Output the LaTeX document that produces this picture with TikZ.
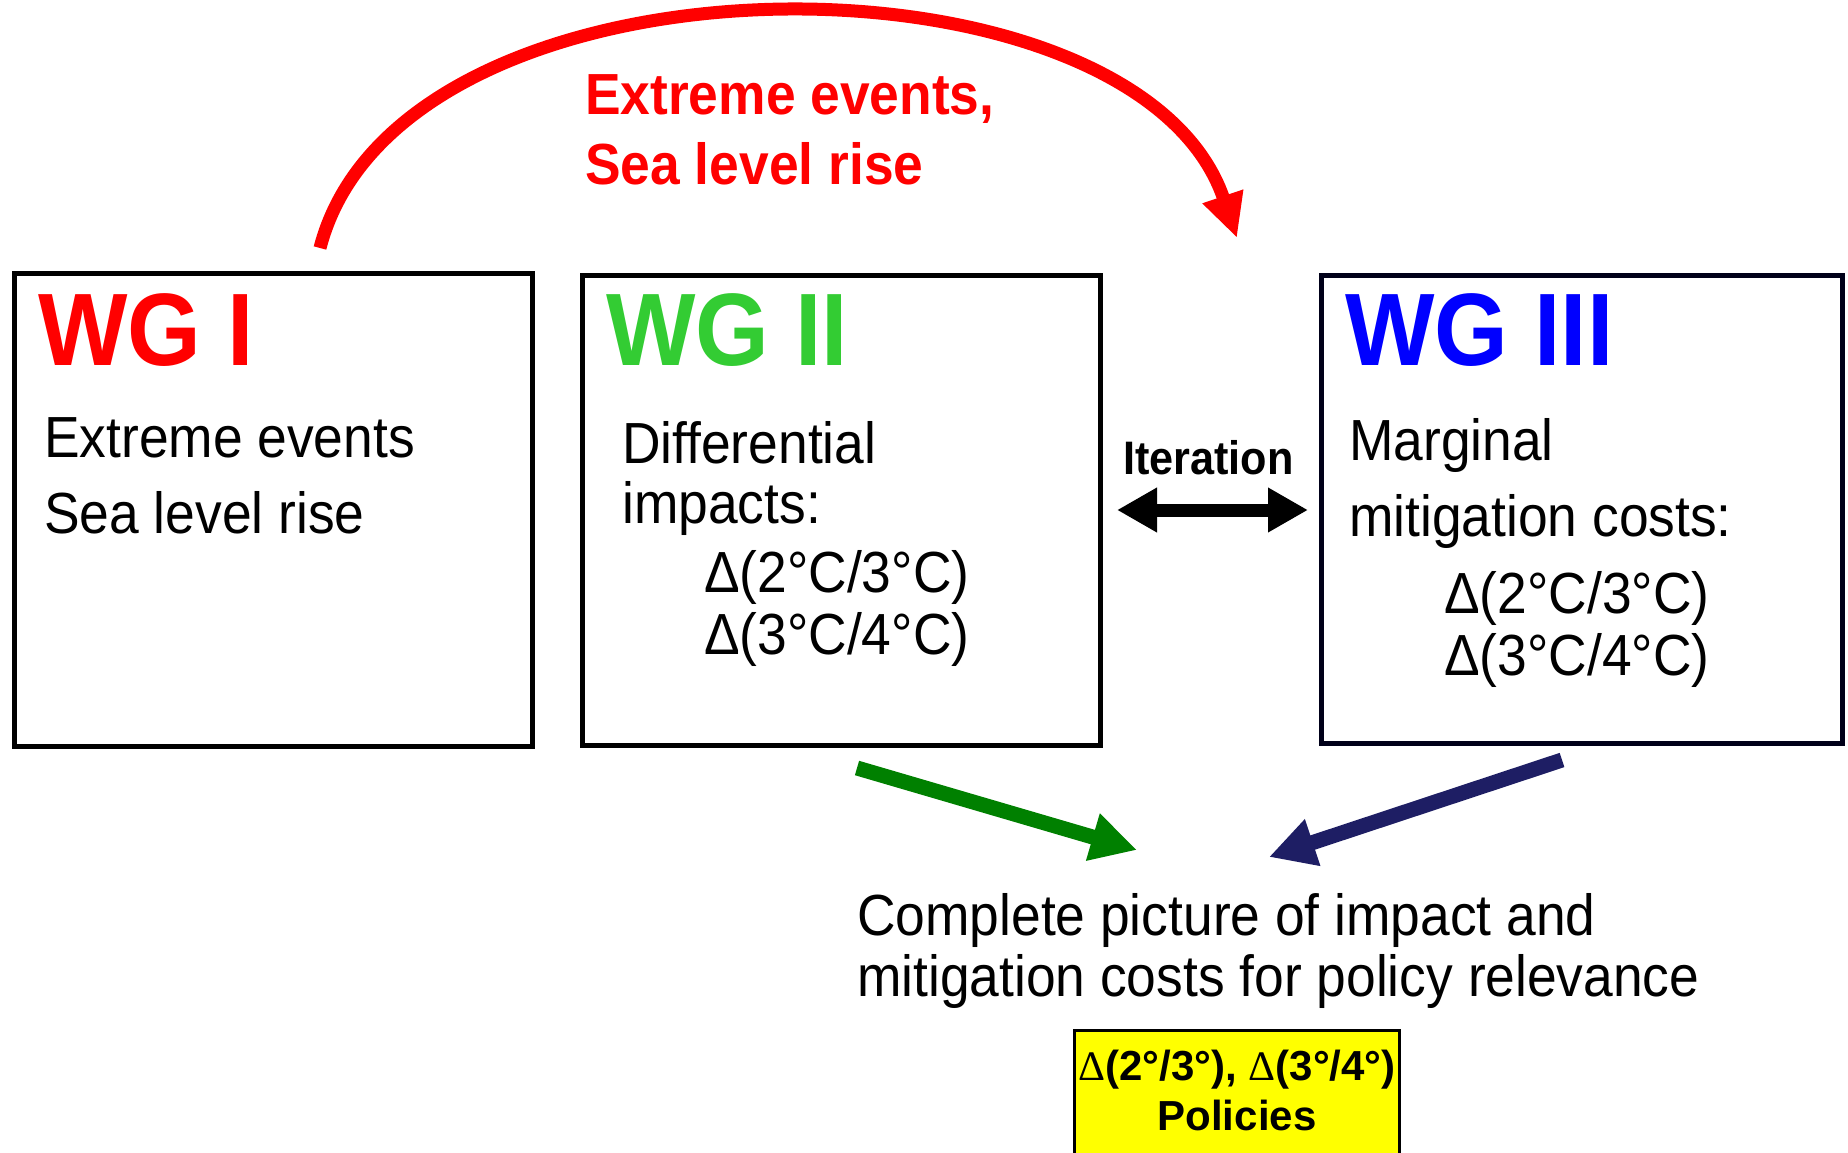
\documentclass[tikz,border=0pt]{standalone}
\usepackage{fontspec}
\setmainfont{Liberation Sans}[FakeStretch=0.92]
\newfontfamily\plainsans{Liberation Sans}
\newfontfamily\serifdelta{Liberation Serif}
\usetikzlibrary{arrows.meta}
\definecolor{wgred}{HTML}{FF0000}
\definecolor{wggreen}{HTML}{33CC33}
\definecolor{wgblue}{HTML}{0000FF}
\definecolor{arrgreen}{HTML}{008000}
\definecolor{arrnavy}{HTML}{1E1E64}
\definecolor{polyellow}{HTML}{FFFF00}
\newcommand{\fsz}[1]{\fontsize{#1}{#1}\selectfont}
\tikzset{
  wgbox/.style={draw=black, line width=5pt, fill=white, inner sep=0pt, rectangle},
  txt/.style={anchor=base west, inner sep=0pt, font=\fsz{58}},
  title/.style={anchor=base west, inner sep=0pt, font=\fsz{103}\bfseries},
  bigarrow/.style={line width=15pt, -{Triangle[length=46pt,width=46pt]}},
}
\begin{document}
\begin{tikzpicture}[x=1pt,y=-1pt]
\useasboundingbox (0,0) rectangle (1848,1153);
\fill[white] (0,0) rectangle (1848,1153);

% boxes
\node[wgbox, minimum width=518pt, minimum height=473pt] (wg1) at (273,509.5) {};
\node[wgbox, minimum width=518pt, minimum height=470pt] (wg2) at (841,510) {};
\node[wgbox, draw=black!90!blue, minimum width=521pt, minimum height=468pt] (wg3) at (1581.5,509) {};

% titles
\node[title, text=wgred] (t1) at (38,365) {WG I};
\node[title, text=wggreen] (t2) at (606,365) {WG II};
\node[title, text=wgblue] (t3) at (1345,365) {WG III};

% box 1 text
\node[txt] (b1a) at (44,457) {Extreme events};
\node[txt] (b1b) at (44,533) {Sea level rise};

% box 2 text
\node[txt] (b2a) at (622,463) {Differential};
\node[txt] (b2b) at (622,523) {impacts:};
\node[txt] (b2c) at (704,592) {Δ(2°C/3°C)};
\node[txt] (b2d) at (704,654) {Δ(3°C/4°C)};

% box 3 text
\node[txt] (b3a) at (1349,460) {Marginal};
\node[txt] (b3b) at (1349,536) {mitigation costs:};
\node[txt] (b3c) at (1444,613) {Δ(2°C/3°C)};
\node[txt] (b3d) at (1444,675) {Δ(3°C/4°C)};

% red arc
\coordinate (arcS) at (320,248);
\coordinate (arcE) at (1237,238);
\draw[wgred, line width=13pt, -{Triangle[length=44pt,width=40pt]}]
  (arcS) .. controls (400,-62) and (1135,-62) .. (arcE);
\node[anchor=base west, inner sep=0pt, text=wgred, font=\fsz{58}\bfseries] (rl1) at (585,115) {Extreme events,};
\node[anchor=base west, inner sep=0pt, text=wgred, font=\fsz{58}\bfseries] (rl2) at (585,185) {Sea level rise};

% iteration
\node[anchor=base west, inner sep=0pt, font=\fsz{47}\bfseries] (iter) at (1123,474) {Iteration};
\coordinate (itL) at (1117,510);
\coordinate (itR) at (1308,510);
\draw[black, line width=13pt, {Triangle[length=40pt,width=42pt]}-{Triangle[length=40pt,width=42pt]}] (itL) -- (itR);

% bottom arrows
\coordinate (gS) at (857,768);
\coordinate (gE) at (1137,850);
\draw[arrgreen, bigarrow] (gS) -- (gE);
\coordinate (nS) at (1562,760);
\coordinate (nE) at (1269,857);
\draw[arrnavy, bigarrow] (nS) -- (nE);

% bottom text
\node[txt] (c1) at (857,935) {Complete picture of impact and};
\node[txt] (c2) at (857,996) {mitigation costs for policy relevance};

% yellow box
\node[draw=black, line width=3pt, fill=polyellow, minimum width=325pt, minimum height=132pt, inner sep=0pt] (pol) at (1236.5,1096) {};
\node[anchor=base, inner sep=0pt, font=\plainsans\fsz{42}\bfseries] (pol1) at (1237,1080) {{\serifdelta\mdseries Δ}(2°/3°), {\serifdelta\mdseries Δ}(3°/4°)};
\node[anchor=base, inner sep=0pt, font=\plainsans\fsz{42}\bfseries] (pol2) at (1237,1130) {Policies};
\end{tikzpicture}
\end{document}
